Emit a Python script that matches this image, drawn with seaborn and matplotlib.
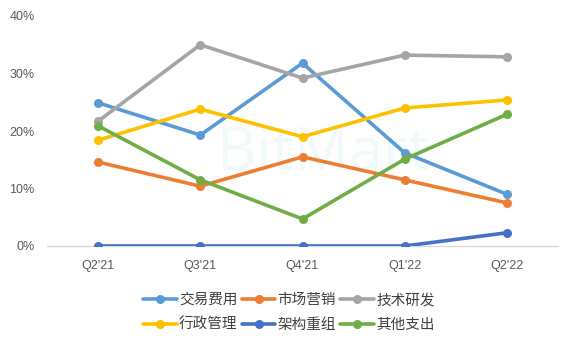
import matplotlib
matplotlib.use("Agg")
import matplotlib.pyplot as plt
import seaborn as sns
import pandas as pd
from matplotlib.ticker import FuncFormatter

quarters = ["Q2'21", "Q3'21", "Q4'21", "Q1'22", "Q2'22"]
series_names = ["交易费用", "市场营销", "技术研发", "行政管理", "架构重组", "其他支出"]
trading = [24.9, 19.3, 31.8, 16.2, 9.0]
marketing = [14.6, 10.4, 15.5, 11.5, 7.5]
rnd = [21.7, 35.0, 29.2, 33.2, 32.9]
admin = [18.4, 23.8, 19.0, 24.0, 25.4]
restructure = [0.0, 0.0, 0.0, 0.0, 2.3]
other = [20.9, 11.5, 4.7, 15.1, 22.9]
colors = ["#5B9BD5", "#ED7D31", "#A5A5A5", "#FFC000", "#4472C4", "#70AD47"]

all_vals = [trading, marketing, rnd, admin, restructure, other]
rows = []
for name, vals in zip(series_names, all_vals):
    for i, (q, v) in enumerate(zip(quarters, vals)):
        rows.append({"quarter": q, "pos": i, "series": name, "value": v / 100})
df = pd.DataFrame(rows)

sns.set_style("white")
plt.rcParams['font.family'] = ['Noto Sans CJK SC', 'DejaVu Sans']

fig = plt.figure(figsize=(5.68, 3.42), dpi=100)
ax = fig.add_axes([47/568, 96/342, 511/568, 230/342])

# faint watermark
ax.text(2.2, 0.16, "BitMart", fontsize=44, color="#E8F5F9", ha="center", va="center",
        family=["Open Sans", "DejaVu Sans"], zorder=0, alpha=0.6)

sns.lineplot(data=df, x="pos", y="value", hue="series", hue_order=series_names,
             palette=colors, marker="o", markersize=6.5, markeredgewidth=0,
             linewidth=2.6, ax=ax, legend=True, zorder=3)

ax.set_xlim(-0.5, 4.5)
ax.set_ylim(0, 0.40)
ax.set_xticks(range(len(quarters)))
ax.set_xticklabels(quarters)
ax.set_yticks([0, 0.1, 0.2, 0.3, 0.4])
ax.yaxis.set_major_formatter(FuncFormatter(lambda v, p: f"{v*100:.0f}%"))
ax.set_xlabel("")
ax.set_ylabel("")
for s in ["top", "right", "left"]:
    ax.spines[s].set_visible(False)
ax.spines["bottom"].set_color("#D9D9D9")
ax.spines["bottom"].set_linewidth(1)
ax.spines["bottom"].set_zorder(1)
ax.tick_params(axis="both", length=0, labelsize=9, colors="#595959")
ax.tick_params(axis="x", pad=10)
ax.tick_params(axis="y", pad=9)
for lab in ax.get_xticklabels() + ax.get_yticklabels():
    lab.set_family(["Liberation Sans", "DejaVu Sans"])

handles, labels = ax.get_legend_handles_labels()
order = [0, 3, 1, 4, 2, 5]  # row-wise fill for 3 columns
handles = [handles[i] for i in order]
labels = [labels[i] for i in order]
ax.legend(handles, labels, ncol=3, loc="upper center",
          bbox_to_anchor=(289/568, 1 - 280/342), bbox_transform=fig.transFigure,
          frameon=False, fontsize=10.5, handlelength=2.3, handletextpad=0.15,
          columnspacing=0.3, labelspacing=0.72, labelcolor="#404040")

fig.savefig("out.png", dpi=100)
